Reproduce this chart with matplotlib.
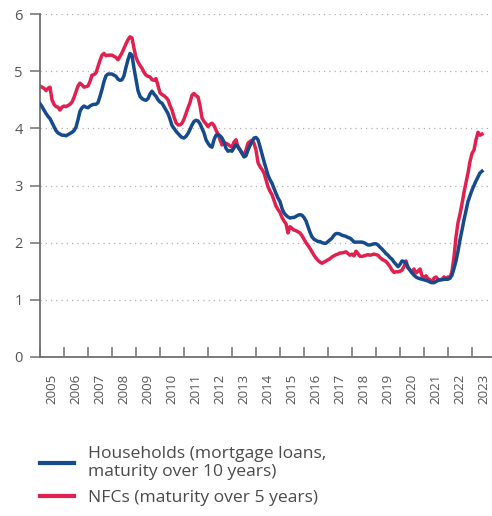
import numpy as np
import matplotlib
matplotlib.use("Agg")
import matplotlib.pyplot as plt
from matplotlib.ticker import FixedLocator, NullFormatter, FixedFormatter

plt.rcParams['font.family'] = ['Open Sans', 'DejaVu Sans']

# Monthly series, Jan 2005 .. Jun 2023
households = [
    4.43, 4.38, 4.32, 4.26, 4.21, 4.17, 4.10, 4.03, 3.96, 3.92, 3.90, 3.88,  # 2005
    3.88, 3.87, 3.89, 3.91, 3.93, 3.96, 4.02, 4.15, 4.30, 4.36, 4.39, 4.37,  # 2006
    4.36, 4.39, 4.41, 4.42, 4.42, 4.45, 4.56, 4.68, 4.82, 4.92, 4.95, 4.95,  # 2007
    4.95, 4.93, 4.91, 4.86, 4.84, 4.85, 4.92, 5.07, 5.20, 5.31, 5.28, 5.05,  # 2008
    4.85, 4.66, 4.56, 4.52, 4.50, 4.49, 4.52, 4.60, 4.65, 4.60, 4.56, 4.50,  # 2009
    4.46, 4.44, 4.38, 4.32, 4.26, 4.16, 4.05, 4.00, 3.95, 3.91, 3.87, 3.84,  # 2010
    3.83, 3.86, 3.91, 3.98, 4.06, 4.12, 4.14, 4.13, 4.08, 4.00, 3.92, 3.80,  # 2011
    3.74, 3.69, 3.67, 3.80, 3.88, 3.89, 3.87, 3.83, 3.76, 3.65, 3.60, 3.61,  # 2012
    3.60, 3.66, 3.71, 3.68, 3.62, 3.56, 3.50, 3.52, 3.62, 3.70, 3.76, 3.83,  # 2013
    3.84, 3.80, 3.68, 3.55, 3.42, 3.30, 3.18, 3.10, 3.04, 2.95, 2.86, 2.78,  # 2014
    2.72, 2.60, 2.52, 2.48, 2.45, 2.43, 2.44, 2.44, 2.46, 2.48, 2.49, 2.48,  # 2015
    2.44, 2.38, 2.28, 2.18, 2.10, 2.06, 2.04, 2.02, 2.02, 2.00, 1.99, 1.99,  # 2016
    2.02, 2.05, 2.08, 2.13, 2.16, 2.16, 2.15, 2.13, 2.12, 2.11, 2.09, 2.08,  # 2017
    2.05, 2.01, 2.01, 2.01, 2.01, 2.01, 2.00, 1.98, 1.96, 1.96, 1.97, 1.98,  # 2018
    1.98, 1.96, 1.92, 1.89, 1.85, 1.81, 1.78, 1.74, 1.71, 1.66, 1.62, 1.58,  # 2019
    1.62, 1.68, 1.67, 1.64, 1.57, 1.52, 1.47, 1.43, 1.40, 1.38, 1.37, 1.36,  # 2020
    1.35, 1.34, 1.33, 1.31, 1.30, 1.30, 1.32, 1.34, 1.35, 1.35, 1.36, 1.36,  # 2021
    1.36, 1.38, 1.43, 1.55, 1.68, 1.85, 2.05, 2.22, 2.40, 2.56, 2.72, 2.82,  # 2022
    2.92, 3.00, 3.08, 3.15, 3.22, 3.25,                                      # 2023
]

nfcs = [
    4.74, 4.72, 4.70, 4.66, 4.70, 4.72, 4.50, 4.42, 4.38, 4.37, 4.32, 4.37,  # 2005
    4.39, 4.38, 4.40, 4.42, 4.46, 4.54, 4.64, 4.74, 4.79, 4.76, 4.72, 4.73,  # 2006
    4.74, 4.82, 4.93, 4.94, 4.97, 5.08, 5.19, 5.28, 5.31, 5.27, 5.28, 5.28,  # 2007
    5.28, 5.26, 5.24, 5.20, 5.26, 5.32, 5.40, 5.48, 5.55, 5.60, 5.58, 5.40,  # 2008
    5.24, 5.16, 5.10, 5.05, 4.98, 4.93, 4.91, 4.90, 4.85, 4.84, 4.87, 4.75,  # 2009
    4.62, 4.59, 4.57, 4.54, 4.50, 4.40, 4.32, 4.20, 4.10, 4.06, 4.06, 4.09,  # 2010
    4.16, 4.26, 4.36, 4.45, 4.58, 4.61, 4.57, 4.55, 4.40, 4.18, 4.12, 4.08,  # 2011
    4.03, 4.07, 4.09, 4.05, 3.97, 3.90, 3.80, 3.71, 3.73, 3.74, 3.72, 3.69,  # 2012
    3.67, 3.76, 3.80, 3.67, 3.63, 3.57, 3.53, 3.62, 3.74, 3.77, 3.79, 3.74,  # 2013
    3.62, 3.40, 3.33, 3.28, 3.22, 3.10, 2.98, 2.90, 2.84, 2.74, 2.64, 2.58,  # 2014
    2.53, 2.44, 2.38, 2.33, 2.17, 2.28, 2.25, 2.22, 2.21, 2.19, 2.17, 2.12,  # 2015
    2.06, 2.00, 1.95, 1.90, 1.84, 1.78, 1.73, 1.69, 1.66, 1.64, 1.66, 1.68,  # 2016
    1.70, 1.72, 1.75, 1.77, 1.79, 1.80, 1.82, 1.82, 1.83, 1.84, 1.81, 1.78,  # 2017
    1.80, 1.77, 1.85, 1.81, 1.76, 1.76, 1.77, 1.78, 1.79, 1.78, 1.79, 1.80,  # 2018
    1.79, 1.78, 1.74, 1.71, 1.69, 1.67, 1.63, 1.58, 1.52, 1.48, 1.49, 1.49,  # 2019
    1.50, 1.52, 1.58, 1.68, 1.56, 1.52, 1.48, 1.54, 1.47, 1.50, 1.54, 1.42,  # 2020
    1.39, 1.42, 1.37, 1.35, 1.31, 1.38, 1.40, 1.36, 1.35, 1.36, 1.40, 1.37,  # 2021
    1.40, 1.38, 1.50, 1.75, 2.10, 2.35, 2.50, 2.68, 2.88, 3.05, 3.22, 3.42,  # 2022
    3.56, 3.62, 3.80, 3.93, 3.88, 3.90,                                      # 2023
]

years = list(range(2005, 2024))
year_labels = [str(y) for y in years]
y_ticks = [0, 1, 2, 3, 4, 5, 6]

label_households = "Households (mortgage loans,\nmaturity over 10 years)"
label_nfcs = "NFCs (maturity over 5 years)"

blue = "#154a8c"
red = "#e0214f"
axis_grey = "#707070"
text_grey = "#555555"

t = 2005 + np.arange(len(households)) / 12.0

fig = plt.figure(figsize=(4.92, 5.16), dpi=100)
ax = fig.add_axes([40/492, 1 - 357/516, 452/492, 343/516])

for yv in y_ticks[1:]:
    ax.axhline(yv, color="#b0b0b0", lw=0.9, ls=(0, (1, 3.2)), zorder=0)

ax.plot(t, households, color=blue, lw=2.5, solid_joinstyle='round', label=label_households, zorder=3)
ax.plot(t, nfcs, color=red, lw=2.5, solid_joinstyle='round', label=label_nfcs, zorder=2)

ax.set_xlim(2005, 2005 + 452/24)
ax.set_ylim(0, 6)

for s in ['top', 'right']:
    ax.spines[s].set_visible(False)
for s in ['left', 'bottom']:
    ax.spines[s].set_color(axis_grey)
    ax.spines[s].set_linewidth(1.3)

ax.set_yticks(y_ticks)
ax.set_yticklabels([str(v) for v in y_ticks])
ax.tick_params(axis='y', direction='out', length=7.5, width=1.1, color=axis_grey,
               labelcolor=text_grey, labelsize=10.5, pad=5)

ax.xaxis.set_major_locator(FixedLocator(years))
ax.xaxis.set_major_formatter(NullFormatter())
ax.xaxis.set_minor_locator(FixedLocator([y + 0.5 for y in years]))
ax.xaxis.set_minor_formatter(FixedFormatter(year_labels))
ax.tick_params(axis='x', which='major', direction='in', length=7.5, width=1.1, color=axis_grey)
ax.tick_params(axis='x', which='minor', length=0, labelsize=9.5, labelcolor=text_grey,
               labelrotation=90, pad=12)

handles, labels = ax.get_legend_handles_labels()
leg = fig.legend(handles, labels, loc='upper left', bbox_to_anchor=(40/492, 1 - 446/516),
                 frameon=False, fontsize=12.6, handlelength=1.95, handletextpad=0.8,
                 labelspacing=0.55, borderpad=0, borderaxespad=0, labelcolor="#4a4a4a")
for lh in leg.get_lines():
    lh.set_linewidth(3)

fig.savefig("out.png", dpi=100)
